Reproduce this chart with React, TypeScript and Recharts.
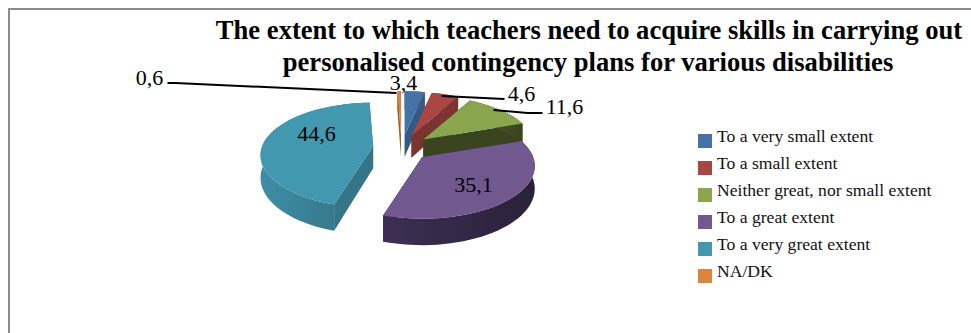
import { PieChart, Pie, Legend } from 'recharts';

const categories = [
  'To a very small extent',
  'To a small extent',
  'Neither great, nor small extent',
  'To a great extent',
  'To a very great extent',
  'NA/DK',
];
const shares = [3.4, 4.6, 11.6, 35.1, 44.6, 0.6];
const shareLabels = ['3,4', '4,6', '11,6', '35,1', '44,6', '0,6'];
const titleLines = [
  'The extent to which teachers need to acquire skills in carrying out',
  'personalised contingency plans for various disabilities',
];

const topColors = ['#4573a7', '#aa4644', '#89a54e', '#71588f', '#4298af', '#db843d'];
const cutColors = ['#335a87', '#7c3331', '#3a4520', '#2f2540', '#35758a', '#9c5c28'];
const wallFrom = ['#3a6391', '#8a3a38', '#4a5a28', '#3c2f54', '#3f8ea6', '#b06a30'];
const wallTo = ['#335a87', '#7c3331', '#3a4520', '#2a2139', '#32707f', '#9c5c28'];

const WIDTH = 971;
const HEIGHT = 333;
const FONT = "'Liberation Serif', 'Times New Roman', serif";
const CX = 401.5;
const CY = 148;

// pie plane squash, perspective strength, slice thickness and explosion
const SQUASH = 0.46;
const PERSPECTIVE = 0.17;
const DEPTH = 22;
const EXPLODE = 0.26;

const data = categories.map((name, i) => ({
  name,
  value: shares[i],
  label: shareLabels[i],
  fill: topColors[i],
  index: i,
}));

// project a point of the unit pie plane, z is distance below the top face
function project(u: number, v: number, a: number, z = 0) {
  const w = 1 - PERSPECTIVE * v;
  return { x: (a * u) / w, y: (a * SQUASH * v + z) / w };
}

const toPath = (pts: { x: number; y: number }[]) =>
  pts.map((p, i) => `${i ? 'L' : 'M'}${p.x.toFixed(2)} ${p.y.toFixed(2)}`).join(' ') + ' Z';

function Slice3D(props: any) {
  const { cx, cy, outerRadius, startAngle, endAngle, payload } = props;
  const i = payload.index;
  const a = outerRadius;
  // recharts angles run counter-clockwise from 3 o'clock
  const from = 90 - startAngle;
  const to = 90 - endAngle;
  const mid = ((from + to) / 2) * (Math.PI / 180);
  const ax = cx + (EXPLODE * 110 * Math.sin(mid));
  const ay = cy - (EXPLODE * 110 * SQUASH * Math.cos(mid));
  const at = (p: { x: number; y: number }) => ({ x: ax + p.x, y: ay + p.y });

  const arc = (z: number) => {
    const pts = [];
    const steps = Math.max(4, Math.ceil((to - from) / 3));
    for (let s = 0; s <= steps; s++) {
      const t = (from + ((to - from) * s) / steps) * (Math.PI / 180);
      pts.push(at(project(Math.sin(t), -Math.cos(t), a, z)));
    }
    return pts;
  };

  const top = arc(0);
  const bottom = arc(DEPTH);
  const apexTop = at(project(0, 0, a));
  const apexBottom = at(project(0, 0, a, DEPTH));
  const gradId = `wall-${i}`;

  return (
    <g>
      <defs>
        <linearGradient id={gradId} x1="0" y1="0" x2="1" y2="0">
          <stop offset="0%" stopColor={wallFrom[i]} />
          <stop offset="100%" stopColor={wallTo[i]} />
        </linearGradient>
      </defs>
      <path d={toPath([apexTop, top[0], bottom[0], apexBottom])} fill={cutColors[i]} />
      <path d={toPath([apexTop, top[top.length - 1], bottom[bottom.length - 1], apexBottom])} fill={cutColors[i]} />
      <path d={toPath([...top, ...bottom.slice().reverse()])} fill={`url(#${gradId})`} />
      <path d={toPath([apexTop, ...top])} fill={payload.fill} />
    </g>
  );
}

// value label offsets from the pie centre, with leader lines for the outside ones
const labelPlacement = [
  { dx: 2, dy: -66 },
  { dx: 120, dy: -55 },
  { dx: 163, dy: -42 },
  { dx: 72, dy: 36 },
  { dx: -85, dy: -15 },
  { dx: -252, dy: -71 },
];
const leaders: ([number, number][] | null)[] = [
  null,
  [[103, -49], [40, -52]],
  [[141, -35], [126, -35], [92, -38]],
  null,
  null,
  [[-234, -65], [-226, -65], [-5, -55]],
];

function ValueLabel(props: any) {
  const { index, payload } = props;
  const place = labelPlacement[index];
  const line = leaders[index];
  return (
    <g>
      {line && (
        <polyline
          points={line.map(([x, y]) => `${CX + x},${CY + y}`).join(' ')}
          fill="none"
          stroke="#000"
          strokeWidth={2}
        />
      )}
      <text
        x={CX + place.dx}
        y={CY + place.dy}
        textAnchor="middle"
        dominantBaseline="central"
        fontFamily={FONT}
        fontSize={22}
        fill="#000"
      >
        {payload.label}
      </text>
    </g>
  );
}

function LegendList({ payload }: any) {
  return (
    <div style={{ fontFamily: FONT, fontSize: 17.6, color: '#111' }}>
      {(payload ?? []).map((item: any) => (
        <div key={item.value} style={{ height: 27, position: 'relative', whiteSpace: 'nowrap' }}>
          <span
            style={{
              position: 'absolute',
              left: 0,
              top: 6,
              width: 14,
              height: 14,
              background: item.color,
            }}
          />
          <span style={{ position: 'absolute', left: 19, top: -1, lineHeight: '18px' }}>{item.value}</span>
        </div>
      ))}
    </div>
  );
}

export default function App() {
  return (
    <div style={{ position: 'absolute', left: 0, top: 0, width: WIDTH, height: HEIGHT, background: '#fff', overflow: 'hidden' }}>
      <div
        style={{
          position: 'absolute',
          left: 8,
          top: 8,
          width: WIDTH,
          height: HEIGHT,
          borderLeft: '2px solid #8c8c8c',
          borderTop: '2px solid #8c8c8c',
        }}
      />
      <PieChart width={WIDTH} height={HEIGHT} margin={{ top: 0, right: 0, bottom: 0, left: 0 }} style={{ position: 'absolute', left: 0, top: 0 }}>
        <text textAnchor="middle" fontFamily={FONT} fontWeight="bold" fontSize={26.6} fill="#000">
          <tspan x={589} y={39}>{titleLines[0]}</tspan>
          <tspan x={588} y={71}>{titleLines[1]}</tspan>
        </text>
        <Pie
          data={data}
          dataKey="value"
          nameKey="name"
          cx={CX}
          cy={CY}
          outerRadius={111}
          startAngle={90}
          endAngle={-270}
          stroke="none"
          isAnimationActive={false}
          shape={Slice3D}
          label={ValueLabel}
          labelLine={false}
          legendType="rect"
        />
        <Legend
          layout="vertical"
          align="center"
          verticalAlign="middle"
          itemSorter={null}
          content={LegendList}
          wrapperStyle={{ left: 698, top: 128, width: 250 }}
        />
      </PieChart>
    </div>
  );
}
